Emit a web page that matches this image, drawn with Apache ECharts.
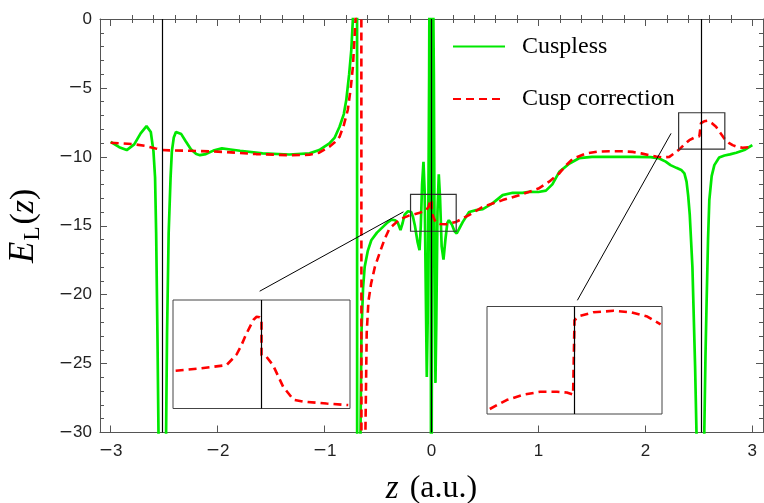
<!DOCTYPE html>
<html><head><meta charset="utf-8">
<script src="https://cdn.jsdelivr.net/npm/echarts@6/dist/echarts.min.js"></script>
<style>html,body{margin:0;padding:0;background:#fff}#c{width:764px;height:503px}</style>
</head><body><div id="c"></div>
<script>
// ---------- data ----------
const cusplessZ = [-3.0,-2.92,-2.85,-2.78,-2.72,-2.665,-2.625,-2.60,-2.585,-2.575,-2.563,-2.553,-2.54,-2.53,-2.50,-2.49,-2.482,-2.473,-2.458,-2.44,-2.428,-2.41,-2.39,-2.372,-2.34,-2.30,-2.25,-2.20,-2.165,-2.11,-2.04,-1.96,-1.88,-1.79,-1.58,-1.33,-1.14,-1.05,-0.955,-0.905,-0.86,-0.82,-0.797,-0.77,-0.75,-0.735,-0.715,-0.698,-0.694,-0.672,-0.664,-0.655,-0.64,-0.625,-0.595,-0.563,-0.51,-0.454,-0.41,-0.375,-0.34,-0.314,-0.29,-0.27,-0.252,-0.22,-0.19,-0.173,-0.155,-0.13,-0.112,-0.10,-0.088,-0.075,-0.064,-0.053,-0.044,-0.036,-0.028,-0.022,-0.018,-0.012,-0.007,-0.003,0.003,0.007,0.012,0.018,0.022,0.028,0.037,0.045,0.056,0.068,0.08,0.095,0.112,0.13,0.148,0.162,0.19,0.215,0.236,0.26,0.293,0.352,0.418,0.48,0.57,0.665,0.76,0.85,0.915,1.0,1.07,1.13,1.195,1.29,1.38,1.5,1.7,1.9,2.05,2.13,2.19,2.235,2.29,2.335,2.365,2.385,2.40,2.415,2.44,2.465,2.478,2.49,2.50,2.54,2.545,2.551,2.562,2.573,2.586,2.598,2.62,2.645,2.69,2.74,2.79,2.85,2.925,3.0];
const cusplessE = [-8.91,-9.3,-9.51,-9.1,-8.3,-7.77,-8.2,-9.6,-11.5,-15.5,-22.8,-30,-50,-90,-90,-50,-30,-22.8,-15.56,-11.5,-9.6,-8.6,-8.2,-8.13,-8.35,-8.85,-9.45,-9.8,-9.88,-9.8,-9.55,-9.39,-9.47,-9.56,-9.75,-9.83,-9.75,-9.51,-9.03,-8.6,-7.82,-6.9,-5.88,-4.0,-2.25,0,15,80,-80,-45,-30,-22.8,-19.5,-18.0,-16.8,-16.05,-15.5,-15.08,-14.75,-14.55,-14.6,-14.8,-15.32,-14.8,-14.2,-13.95,-14.0,-14.36,-15.0,-16.2,-16.78,-15.0,-12.0,-10.36,-12.5,-20.0,-25.98,-22.0,-12.0,-4.0,5,5,-10,-50,-50,-10,5,5,-4.0,-15.0,-26.4,-22.0,-14.0,-11.26,-13.0,-16.5,-17.45,-16.0,-14.8,-14.6,-14.9,-15.4,-15.56,-15.2,-14.72,-14.0,-13.87,-13.8,-13.38,-12.78,-12.61,-12.61,-12.54,-12.55,-12.45,-12.0,-11.09,-10.48,-10.1,-10.0,-10.0,-10.0,-10.02,-10.12,-10.35,-10.6,-10.8,-10.95,-11.2,-11.8,-12.8,-14.2,-18.0,-25.2,-30,-60,-90,-90,-50,-30,-24.5,-20.4,-16.0,-13.14,-11.4,-10.6,-10.05,-9.9,-9.82,-9.7,-9.51,-9.15];

const cuspZ = [-3.0,-2.9,-2.79,-2.68,-2.58,-2.52,-2.45,-2.26,-1.95,-1.64,-1.33,-1.14,-1.05,-0.955,-0.905,-0.86,-0.82,-0.783,-0.755,-0.735,-0.71,-0.69,-0.658,-0.654,-0.632,-0.618,-0.606,-0.59,-0.565,-0.53,-0.486,-0.44,-0.393,-0.30,-0.206,-0.11,-0.05,-0.025,-0.012,-0.004,0.0,0.0,0.015,0.03,0.044,0.08,0.137,0.23,0.35,0.48,0.665,0.82,0.915,1.0,1.1,1.195,1.26,1.32,1.445,1.55,1.66,1.78,1.88,1.96,2.035,2.1,2.16,2.224,2.27,2.318,2.365,2.411,2.46,2.505,2.52,2.52,2.55,2.582,2.62,2.661,2.70,2.738,2.78,2.816,2.86,2.909,2.96,3.0];
const cuspE = [-8.98,-9.02,-9.08,-9.2,-9.39,-9.5,-9.53,-9.56,-9.64,-9.8,-9.88,-9.85,-9.7,-9.27,-8.95,-8.55,-7.7,-6.6,-5.0,-3.46,0,20,80,-80,-45,-30,-22.8,-20.5,-19.2,-18.0,-17.0,-16.0,-15.2,-14.55,-14.25,-14.06,-13.87,-13.6,-13.1,-13.05,-13.3,-14.0,-14.3,-14.6,-14.79,-14.87,-14.89,-14.72,-14.23,-13.63,-13.14,-12.78,-12.54,-12.3,-11.8,-11.2,-10.6,-10.15,-9.76,-9.62,-9.59,-9.6,-9.64,-9.75,-9.88,-9.98,-10.05,-10.0,-9.75,-9.46,-9.1,-8.79,-8.6,-8.5,-8.45,-7.55,-7.42,-7.38,-7.55,-7.82,-8.25,-8.67,-8.98,-9.15,-9.28,-9.34,-9.3,-9.27];

// inset (zoomed) curves of the cusp-corrected energy
const insetLeftZ = [-0.194,-0.14,-0.079,-0.064,-0.056,-0.045,-0.036,-0.026,-0.018,-0.011,-0.004,0.0,0.0,0.011,0.026,0.049,0.072,0.094,0.147,0.196];
const insetLeftE = [-14.234,-14.188,-14.12,-13.98,-13.9,-13.71,-13.52,-13.34,-13.2,-13.14,-13.15,-13.2,-13.92,-13.95,-14.12,-14.56,-14.82,-14.86,-14.90,-14.93];
const insetRightZ = [2.399,2.423,2.447,2.471,2.495,2.509,2.518,2.52,2.52,2.528,2.547,2.576,2.6,2.624,2.643];
const insetRightE = [-8.63,-8.505,-8.43,-8.39,-8.39,-8.40,-8.43,-8.44,-7.39,-7.33,-7.28,-7.26,-7.28,-7.34,-7.45];

const nuclei = [-2.52, 0, 2.52];
const xRange = [-3.1, 3.1];
const yRange = [-30, 0];
const xMajorTicks = [-3,-2,-1,0,1,2,3];
const xMinorTicks = [-2.8,-2.6,-2.4,-2.2,-1.8,-1.6,-1.4,-1.2,-0.8,-0.6,-0.4,-0.2,0.2,0.4,0.6,0.8,1.2,1.4,1.6,1.8,2.2,2.4,2.6,2.8];
const zoomBoxes = [[[-0.196,-12.73],[0.231,-15.40]], [[2.311,-6.80],[2.743,-9.44]]];
const connectors = [[[-1.607,-19.75],[-0.262,-13.99]], [[1.364,-20.41],[2.240,-8.30]]];
const insetLeftRange = {x:[-0.2,0.2], y:[-15.0,-12.8]};
const insetRightRange = {x:[2.395,2.645], y:[-8.7,-7.2]};
const seriesNames = ['Cuspless','Cusp correction'];

// ---------- chart ----------
const zip = (a,b) => a.map((v,i)=>[v,b[i]]);
const AX = '#555';
const labelRich = {
  m:{fontFamily:'DejaVu Sans', fontSize:17, color:'#222', padding:[0,0,0,0]},
  d:{fontFamily:'Liberation Sans', fontSize:17, color:'#222'}
};
const fmt = v => v<0 ? '{m|\u2212}{d|'+Math.abs(v)+'}' : '{d|'+v+'}';
const serif = 'Liberation Serif';

const xBase = {type:'value', min:xRange[0], max:xRange[1], gridIndex:0,
  splitLine:{show:false}, axisLine:{show:false}, axisLabel:{show:false}, axisTick:{show:false}};
const majorTick = {show:true, inside:true, length:7, customValues:xMajorTicks, lineStyle:{color:AX, width:1}};
const minorTickX = {show:true, inside:true, length:4, customValues:xMinorTicks, lineStyle:{color:AX, width:1}};
const axLine = {show:true, onZero:false, lineStyle:{color:AX, width:1}};

const yBase = {type:'value', gridIndex:0, min:yRange[0], max:yRange[1], interval:5,
  axisLine:axLine, axisTick:{show:true, inside:true, length:7, lineStyle:{color:AX}},
  minorTick:{show:true, splitNumber:5, length:4, lineStyle:{color:AX}},
  splitLine:{show:false}, minorSplitLine:{show:false}};

const option = {
  animation:false,
  backgroundColor:'#fff',
  grid:[
    {left:100, top:19, width:663, height:413.5, outerBoundsMode:'none', containLabel:false},
    {left:173, top:300, width:177, height:108.5, show:true, backgroundColor:'#fff', borderColor:'#444', borderWidth:1, z:3, outerBoundsMode:'none'},
    {left:487, top:306.5, width:175, height:107.5, show:true, backgroundColor:'#fff', borderColor:'#444', borderWidth:1, z:3, outerBoundsMode:'none'}
  ],
  legend:{
    data:seriesNames, orient:'vertical', left:452, top:33.5, padding:0, itemWidth:52, itemHeight:14, itemGap:26.5,
    selectedMode:false,
    itemStyle:{color:'rgba(0,0,0,0)', borderColor:'rgba(0,0,0,0)', borderWidth:0},
    textStyle:{fontFamily:serif, fontSize:24, color:'#000', lineHeight:26, padding:[0,0,0,12]}
  },
  xAxis:[
    Object.assign({}, xBase, {position:'bottom', axisLine:axLine, axisTick:majorTick,
      axisLabel:{show:true, customValues:xMajorTicks, formatter:fmt, rich:labelRich, margin:10},
      name:'{z|z}{p|(a.u.)}', nameLocation:'middle', nameGap:40,
      nameTextStyle:{rich:{z:{fontFamily:serif, fontStyle:'italic', fontSize:33, color:'#000', padding:[0,11,0,0]}, p:{fontFamily:serif, fontSize:32, color:'#000'}}}}),
    Object.assign({}, xBase, {position:'bottom', axisTick:minorTickX}),
    Object.assign({}, xBase, {position:'top', axisLine:axLine, axisTick:majorTick}),
    Object.assign({}, xBase, {position:'top', axisTick:minorTickX}),
    {type:'value', gridIndex:1, min:insetLeftRange.x[0], max:insetLeftRange.x[1], show:false},
    {type:'value', gridIndex:2, min:insetRightRange.x[0], max:insetRightRange.x[1], show:false}
  ],
  yAxis:[
    Object.assign({}, yBase, {position:'left',
      axisLabel:{formatter:fmt, rich:labelRich, margin:8},
      name:'{e|E}{s|L}{p|(}{z|z}{p|)}', nameLocation:'middle', nameRotate:90, nameGap:56,
      nameTextStyle:{rich:{
        e:{fontFamily:serif, fontStyle:'italic', fontSize:35, color:'#000', lineHeight:40, padding:[0,1,0,0]},
        s:{fontFamily:serif, fontSize:23, color:'#000', lineHeight:24, verticalAlign:'bottom', padding:[0,2,0,0]},
        p:{fontFamily:serif, fontSize:34, color:'#000', lineHeight:40},
        z:{fontFamily:serif, fontStyle:'italic', fontSize:34, color:'#000', lineHeight:40}}}}),
    Object.assign({}, yBase, {position:'right', axisLabel:{show:false}}),
    {type:'value', gridIndex:1, min:insetLeftRange.y[0], max:insetLeftRange.y[1], show:false},
    {type:'value', gridIndex:2, min:insetRightRange.y[0], max:insetRightRange.y[1], show:false}
  ],
  series:[
    {type:'line', name:seriesNames[0], xAxisIndex:0, yAxisIndex:0, data:zip(cusplessZ, cusplessE),
      symbol:'none', showSymbol:false, clip:true, z:2,
      lineStyle:{color:'#00e800', width:2.7}, itemStyle:{color:'#00e800'}},
    {type:'line', name:seriesNames[1], xAxisIndex:0, yAxisIndex:0, data:zip(cuspZ, cuspE),
      symbol:'none', showSymbol:false, clip:true, z:3,
      lineStyle:{color:'#ff0000', width:2.6, type:[8,5]}, itemStyle:{color:'#ff0000'},
      markLine:{silent:true, symbol:['none','none'], label:{show:false}, z:6,
        lineStyle:{color:'#000', width:1.2, type:'solid'},
        emphasis:{disabled:true},
        data: nuclei.map(v=>({xAxis:v})).concat(
          connectors.map(c=>[{coord:c[0], lineStyle:{width:1}}, {coord:c[1]}]))},
      markArea:{silent:true, label:{show:false}, z:6,
        itemStyle:{color:'rgba(0,0,0,0)', borderColor:'#333', borderWidth:1.2},
        emphasis:{disabled:true},
        data: zoomBoxes.map(b=>[{coord:b[0]},{coord:b[1]}])}},
    {type:'line', name:'insetLeft', xAxisIndex:4, yAxisIndex:2, data:zip(insetLeftZ, insetLeftE),
      symbol:'none', showSymbol:false, z:4,
      lineStyle:{color:'#ff0000', width:2.6, type:[8,5]},
      markLine:{silent:true, symbol:['none','none'], label:{show:false}, lineStyle:{color:'#000', width:1.2, type:'solid'}, data:[{xAxis:nuclei[1]}]}},
    {type:'line', name:'insetRight', xAxisIndex:5, yAxisIndex:3, data:zip(insetRightZ, insetRightE),
      symbol:'none', showSymbol:false, z:4,
      lineStyle:{color:'#ff0000', width:2.6, type:[8,5]},
      markLine:{silent:true, symbol:['none','none'], label:{show:false}, lineStyle:{color:'#000', width:1.2, type:'solid'}, data:[{xAxis:nuclei[2]}]}}
  ]
};
const chart = echarts.init(document.getElementById('c'), null, {renderer:'canvas'});
chart.setOption(option);
</script>
</body></html>
